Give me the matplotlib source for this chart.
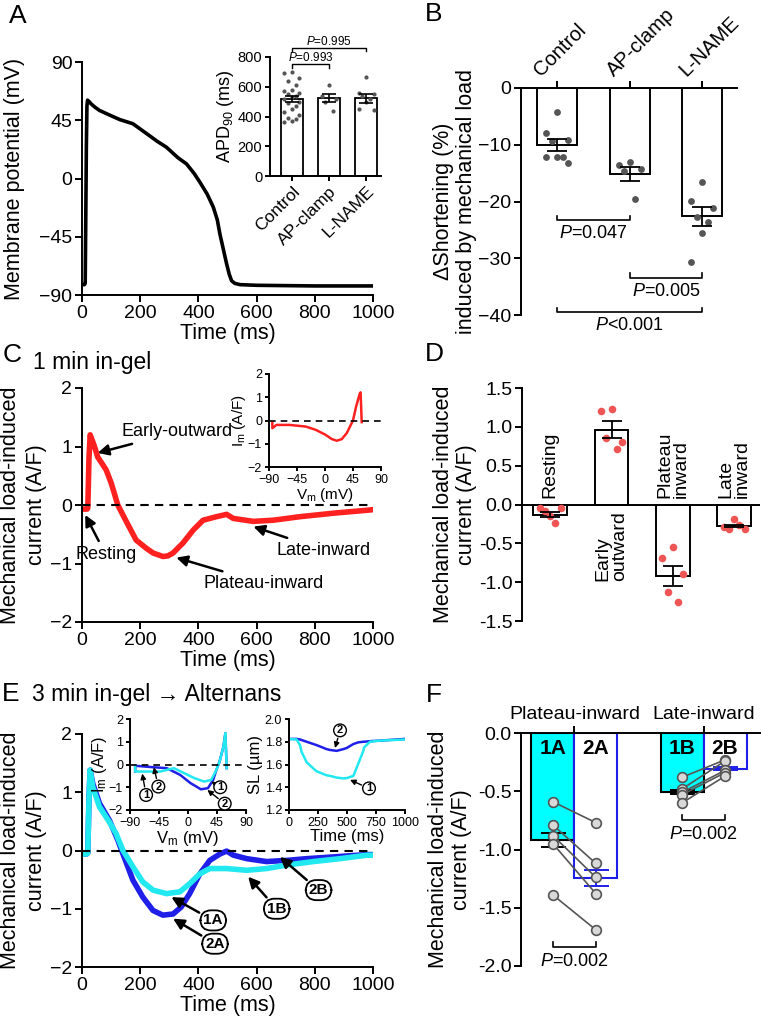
import numpy as np
import matplotlib
matplotlib.use('Agg')
import matplotlib.pyplot as plt
import matplotlib.transforms as mtransforms

plt.rcParams['font.family'] = ['Liberation Sans', 'DejaVu Sans']
plt.rcParams['mathtext.fontset'] = 'custom'
plt.rcParams['mathtext.rm'] = 'Liberation Sans'
plt.rcParams['mathtext.it'] = 'Liberation Sans:italic'
plt.rcParams['mathtext.bf'] = 'Liberation Sans:bold'
plt.rcParams['mathtext.default'] = 'regular'
plt.rcParams['axes.linewidth'] = 1.4

# ---- data ----
# A: action potential
ap_time = [0, 8, 11, 13, 15, 17, 19, 24, 32, 45, 60, 90, 130, 175, 220, 260, 290,
           330, 359, 385, 405, 430, 451, 465, 474, 486, 497, 506, 514, 525, 543, 600, 800, 1000]
ap_volt = [-82, -82, -81, -30, 25, 56, 60.5, 59.5, 57.5, 55, 52.6, 49.5, 45.5, 42.3, 35,
           28.5, 24.2, 16, 11.3, 4, -2.8, -12, -22, -32, -43, -55, -66, -74, -79, -81, -82, -82.5, -83, -83]

apd_groups = ['Control', 'AP-clamp', 'L-NAME']
apd_mean = [518, 523, 522]
apd_sem = [20, 28, 30]
apd_control = [700, 690, 660, 640, 610, 580, 570, 560, 550, 540, 530, 520, 500, 490,
               470, 450, 430, 410, 390, 380, 370, 365]
apd_apclamp = [610, 540, 520, 500, 440]
apd_lname = [665, 560, 550, 540, 520, 500, 450, 445]

# B: shortening
short_mean = [-10.0, -15.1, -22.6]
short_sem = [1.05, 1.2, 1.7]
short_control = [-4.3, -7.9, -9.2, -9.4, -12.1, -12.1, -12.2, -13.2]
short_apclamp = [-13.0, -13.5, -14.3, -14.6, -19.6]
short_lname = [-16.5, -19.9, -21.1, -22.8, -23.6, -25.6, -30.7]

# C: 1 min in-gel current
c_time = [0, 18, 20, 24, 28, 34, 43, 54, 70, 83, 100, 111, 123, 152, 186, 221, 244, 278,
          295, 313, 347, 382, 416, 462, 497, 520, 589, 657, 749, 864, 979, 1000]
c_curr = [-0.07, -0.07, -0.05, 0.8, 1.2, 1.12, 1.0, 0.82, 0.7, 0.6, 0.38, 0.2, 0.0, -0.28,
          -0.6, -0.74, -0.82, -0.88, -0.87, -0.82, -0.65, -0.43, -0.26, -0.2, -0.16, -0.23,
          -0.28, -0.26, -0.2, -0.14, -0.09, -0.08]
c_iv_volt = [-84.6, -84.6, -78, -57, -31, -15, 0.5, 11, 19, 27, 35, 45, 50, 56, 57.2, 59]
c_iv_curr = [-0.1, -0.33, -0.19, -0.19, -0.26, -0.4, -0.61, -0.8, -0.87, -0.8, -0.54, 0.0,
             0.6, 1.17, 1.21, -0.07]

# D: current components
d_labels = ['Resting', 'Early\noutward', 'Plateau\ninward', 'Late\ninward']
d_mean = [-0.13, 0.96, -0.92, -0.28]
d_sem = [0.03, 0.11, 0.13, 0.015]
d_points = [[-0.15, -0.05, -0.05, -0.09, -0.24],
            [1.23, 1.21, 0.81, 0.86, 0.72],
            [-0.55, -0.69, -0.90, -1.13, -1.26],
            [-0.19, -0.29, -0.32, -0.31, -0.27]]

# E: 3 min in-gel, alternans beats
e1_time = [0, 16, 20, 24, 28, 37, 60, 94, 117, 140, 175, 209, 244, 290, 336, 370, 405,
           439, 497, 566, 634, 703, 795, 887, 979, 1000]
e1_curr = [-0.06, -0.06, -0.04, 0.9, 1.38, 1.09, 0.75, 0.49, 0.29, 0.01, -0.28, -0.54,
           -0.68, -0.74, -0.71, -0.57, -0.4, -0.31, -0.31, -0.34, -0.31, -0.25, -0.19,
           -0.14, -0.08, -0.08]
e2_time = [0, 16, 20, 24, 28, 37, 60, 94, 123, 140, 175, 209, 244, 278, 313, 341, 370,
           405, 439, 474, 497, 520, 566, 634, 703, 772, 864, 979, 1000]
e2_curr = [-0.06, -0.06, -0.04, 0.9, 1.38, 1.15, 0.81, 0.52, 0.18, -0.05, -0.51, -0.8,
           -1.03, -1.11, -1.09, -0.97, -0.74, -0.4, -0.17, -0.06, -0.01, -0.08, -0.14,
           -0.19, -0.17, -0.14, -0.11, -0.07, -0.07]
e1_iv_volt = [-82, -82, -81.5, -43, -22, -6, 10, 25, 36, 44, 49, 55, 58, 60]
e1_iv_curr = [-0.05, -0.3, -0.31, -0.31, -0.16, -0.38, -0.6, -0.75, -0.68, -0.24, 0.13,
              0.79, 1.38, -0.16]
e2_iv_volt = [-82, -82, -80.5, -54, -33, -12, 4, 20, 31, 39, 44, 49, 55, 58, 60]
e2_iv_curr = [-0.3, -0.05, -0.06, -0.12, -0.16, -0.46, -0.82, -1.09, -1.04, -0.68, -0.24,
              0.13, 0.79, 1.38, -0.16]
sl_time = [0, 66, 95, 109, 152, 210, 239, 325, 353, 411, 468, 497, 555, 598, 641, 647,
           698, 784, 1000]
sl_beat1 = [1.825, 1.82, 1.77, 1.71, 1.62, 1.565, 1.54, 1.505, 1.50, 1.485, 1.478, 1.48,
            1.50, 1.61, 1.72, 1.75, 1.80, 1.81, 1.82]
sl_beat2 = [1.825, 1.825, 1.82, 1.815, 1.80, 1.78, 1.77, 1.735, 1.728, 1.72, 1.735, 1.745,
            1.78, 1.795, 1.80, 1.80, 1.805, 1.81, 1.825]

# F: paired plateau / late inward
f_pos = [0, 1, 3, 4]
f_names = ['1A', '2A', '1B', '2B']
f_mean = [-0.92, -1.245, -0.505, -0.305]
f_sem = [0.06, 0.065, 0.02, 0.015]
f_plateau_1 = [-0.59, -0.79, -0.88, -0.95, -1.39]
f_plateau_2 = [-0.77, -1.12, -1.24, -1.38, -1.69]
f_late_1 = [-0.38, -0.48, -0.51, -0.53, -0.60]
f_late_2 = [-0.23, -0.24, -0.32, -0.34, -0.37]

RED = '#ff2020'
BLUE = '#1f1fe8'
CYAN = '#22e8f0'
DOT = '#555555'

W, H = 762.0, 1019.0
fig = plt.figure(figsize=(7.62, 10.19), dpi=100)


def add_ax(l, t, r, b):
    return fig.add_axes([l / W, 1 - b / H, (r - l) / W, (b - t) / H])


def style(ax, size=14, length=5):
    ax.spines['top'].set_visible(False)
    ax.spines['right'].set_visible(False)
    ax.tick_params(direction='out', length=length, width=1.4, labelsize=size, pad=2)
    ax.patch.set_alpha(0)


def spread(n, w):
    # deterministic side-by-side placement of the dots
    pattern = [0, -1, 1, -0.5, 0.5]
    return [pattern[i % 5] * w for i in range(n)]


def bracket(ax, x1, x2, y, h, label, ty, fs, lw=1.2):
    ax.plot([x1, x1, x2, x2], [y + h, y, y, y + h], color='k', lw=lw, clip_on=False)
    ax.text((x1 + x2) / 2, ty, label, ha='center', va='center', fontsize=fs, clip_on=False)


def letter(x, y, s):
    fig.text(x / W, 1 - y / H, s, fontsize=19, ha='center', va='center')


CUR_LABEL = 'Mechanical load-induced\ncurrent (A/F)'

# ---------------- A ----------------
axA = add_ax(82, 62, 373, 295)
style(axA)
axA.plot(ap_time, ap_volt, color='k', lw=2.6)
axA.set_xlim(0, 1000)
axA.set_ylim(-90, 90)
axA.set_xticks(range(0, 1001, 200))
axA.set_yticks([-90, -45, 0, 45, 90])
axA.set_xlabel('Time (ms)', fontsize=15.5, labelpad=1)
axA.set_ylabel('Membrane potential (mV)', fontsize=15.5)
axA.yaxis.set_label_coords(-0.196, 0.5)

axAi = add_ax(270, 57, 381, 176)
style(axAi, size=10.5, length=3.5)
axAi.bar(range(3), apd_mean, width=0.58, facecolor='white', edgecolor='k', lw=1.3, zorder=1)
for i, vals in enumerate([apd_control, apd_apclamp, apd_lname]):
    off = spread(len(vals), 0.2)
    axAi.scatter(np.array(off) + i, vals, s=9, color=DOT, zorder=3, lw=0)
axAi.errorbar(range(3), apd_mean, yerr=apd_sem, fmt='none', ecolor='k', elinewidth=1.2,
              capsize=5, capthick=1.2, zorder=4)
axAi.set_xlim(-0.59, 2.4)
axAi.set_ylim(0, 800)
axAi.set_yticks(range(0, 801, 200))
axAi.set_xticks(range(3))
axAi.set_xticklabels(apd_groups, rotation=45, ha='right', rotation_mode='anchor', fontsize=12.5)
axAi.set_ylabel('APD$_{90}$ (ms)', fontsize=13, labelpad=1)
bracket(axAi, 0, 1, 750, -22, r'$\mathit{P}$=0.993', 795, 8.5, lw=1)
bracket(axAi, 0, 2, 862, -22, r'$\mathit{P}$=0.995', 905, 8.5, lw=1)

# ---------------- B ----------------
axB = add_ax(521, 88, 737, 315)
axB.spines['right'].set_visible(False)
axB.spines['bottom'].set_visible(False)
axB.tick_params(direction='out', length=5, width=1.4, labelsize=14, pad=2)
axB.patch.set_alpha(0)
axB.xaxis.tick_top()
axB.bar(range(3), short_mean, width=0.55, facecolor='white', edgecolor='k', lw=1.4)
for i, vals in enumerate([short_control, short_apclamp, short_lname]):
    off = spread(len(vals), 0.15)
    axB.scatter(np.array(off) + i, vals, s=24, color=DOT, zorder=3, lw=0)
axB.errorbar(range(3), short_mean, yerr=short_sem, fmt='none', ecolor='k', elinewidth=1.3,
             capsize=7, capthick=1.3, zorder=4)
axB.set_xlim(-0.5, 2.48)
axB.set_ylim(-40, 0)
axB.set_yticks([-40, -30, -20, -10, 0])
axB.set_xticks(range(3))
axB.set_xticklabels(apd_groups, rotation=45, ha='left', va='bottom', rotation_mode='anchor',
                    fontsize=14.5)
shift = mtransforms.ScaledTranslation(-13 / 100, -2 / 100, fig.dpi_scale_trans)
for lab in axB.get_xticklabels():
    lab.set_transform(lab.get_transform() + shift)
axB.set_ylabel('\u0394Shortening (%)\ninduced by mechanical load', fontsize=15.5,
               linespacing=1.1)
axB.yaxis.set_label_coords(-0.204, 0.5)
bracket(axB, 0, 1, -23.3, 0.8, r'$\mathit{P}$=0.047', -25.6, 13)
bracket(axB, 1, 2, -33.4, 0.8, r'$\mathit{P}$=0.005', -35.8, 13)
bracket(axB, 0, 2, -39.5, 0.8, r'$\mathit{P}$<0.001', -41.9, 13)

# ---------------- C ----------------
axC = add_ax(82, 388, 373, 622)
style(axC)
axC.plot(c_time, c_curr, color=RED, lw=4, solid_joinstyle='round')
axC.plot([0, 1000], [0, 0], color='k', lw=1.5, ls=(0, (4, 3)))
axC.set_xlim(0, 1000)
axC.set_ylim(-2, 2)
axC.set_xticks(range(0, 1001, 200))
axC.set_yticks([-2, -1, 0, 1, 2])
axC.set_xlabel('Time (ms)', fontsize=15.5, labelpad=1)
axC.set_ylabel(CUR_LABEL, fontsize=15.5, linespacing=1.3)
axC.yaxis.set_label_coords(-0.12, 0.5)
arr = dict(arrowstyle='-|>', color='k', lw=1.8, mutation_scale=16, shrinkA=2, shrinkB=0)
axC.annotate('Early-outward', xy=(54, 0.89), xytext=(137, 1.25), ha='left', va='center',
             fontsize=13, arrowprops=arr)
axC.annotate('Resting', xy=(11, -0.17), xytext=(82, -0.85), ha='center', va='center',
             fontsize=13, arrowprops=arr, annotation_clip=False)
axC.annotate('Plateau-inward', xy=(324, -0.9), xytext=(416, -1.34), ha='left', va='center',
             fontsize=13, arrowprops=arr)
axC.annotate('Late-inward', xy=(589, -0.37), xytext=(669, -0.77), ha='left', va='center',
             fontsize=13, arrowprops=arr)

axCi = add_ax(269, 374, 381, 467)
style(axCi, size=9, length=3)
axCi.plot(c_iv_volt, c_iv_curr, color=RED, lw=1.8)
axCi.plot([-90, 90], [0, 0], color='k', lw=1.2, ls=(0, (4, 3)))
axCi.set_xlim(-90, 90)
axCi.set_ylim(-2, 2)
axCi.set_xticks([-90, -45, 0, 45, 90])
axCi.set_yticks([-2, -1, 0, 1, 2])
axCi.set_xlabel('V$_m$ (mV)', fontsize=11, labelpad=0)
axCi.set_ylabel('I$_m$ (A/F)', fontsize=11, labelpad=0)

# ---------------- D ----------------
axD = add_ax(522, 388, 760, 621)
style(axD)
axD.spines['bottom'].set_visible(False)
axD.bar(range(4), d_mean, width=0.55, facecolor='white', edgecolor='k', lw=1.4)
for i, vals in enumerate(d_points):
    off = spread(len(vals), 0.17)
    axD.scatter(np.array(off) + i, vals, s=30, color='#f05555', zorder=3, lw=0)
axD.errorbar(range(4), d_mean, yerr=d_sem, fmt='none', ecolor='k', elinewidth=1.3,
             capsize=7, capthick=1.3, zorder=4)
axD.axhline(0, color='k', lw=1.4)
axD.set_xlim(-0.46, 3.42)
axD.set_ylim(-1.5, 1.5)
axD.set_xticks([])
axD.set_yticks([-1.5, -1.0, -0.5, 0.0, 0.5, 1.0, 1.5])
axD.set_yticklabels(['-1.5', '-1.0', '-0.5', '0.0', '0.5', '1.0', '1.5'])
axD.set_ylabel(CUR_LABEL, fontsize=15.5, linespacing=1.1)
axD.yaxis.set_label_coords(-0.189, 0.5)
for i, lab in enumerate(d_labels):
    if d_mean[i] > 0:
        axD.text(i, -0.08, lab, rotation=90, ha='center', va='top', fontsize=14,
                 multialignment='left', linespacing=1.0)
    else:
        axD.text(i, 0.09, lab, rotation=90, ha='center', va='bottom', fontsize=14,
                 multialignment='left', linespacing=1.0)

# ---------------- E ----------------
axE = add_ax(82, 734, 373, 967)
style(axE)
axE.plot(e2_time, e2_curr, color=BLUE, lw=4, solid_joinstyle='round')
axE.plot(e1_time, e1_curr, color=CYAN, lw=4, solid_joinstyle='round')
axE.plot([0, 1000], [0, 0], color='k', lw=1.5, ls=(0, (4, 3)))
axE.set_xlim(0, 1000)
axE.set_ylim(-2, 2)
axE.set_xticks(range(0, 1001, 200))
axE.set_yticks([-2, -1, 0, 1, 2])
axE.set_xlabel('Time (ms)', fontsize=15.5, labelpad=1)
axE.set_ylabel(CUR_LABEL, fontsize=15.5, linespacing=1.3)
axE.yaxis.set_label_coords(-0.12, 0.5)
oval = dict(boxstyle='round,pad=0.2,rounding_size=0.7', fc='white', ec='k', lw=1.3)
for lab, tip, pos in [('1A', (307, -0.8), (451, -1.2)), ('2A', (313, -1.17), (457, -1.6)),
                      ('1B', (571, -0.45), (669, -1.0)), ('2B', (680, -0.11), (813, -0.68))]:
    axE.annotate(lab, xy=tip, xytext=pos, ha='center', va='center', fontsize=11,
                 fontweight='bold', bbox=oval, arrowprops=arr)

axE1 = add_ax(130, 719, 246, 810)
style(axE1, size=9, length=3)
axE1.plot(e2_iv_volt, e2_iv_curr, color=BLUE, lw=1.8)
axE1.plot(e1_iv_volt, e1_iv_curr, color=CYAN, lw=1.8)
axE1.plot([-90, 90], [0, 0], color='k', lw=1.2, ls=(0, (4, 3)))
axE1.set_xlim(-90, 90)
axE1.set_ylim(-2, 2)
axE1.set_xticks([-90, -45, 0, 45, 90])
axE1.set_yticks([-2, -1, 0, 1, 2])
axE1.set_xlabel('V$_m$ (mV)', fontsize=12, labelpad=0)
axE1.set_ylabel('I$_m$ (A/F)', fontsize=12, labelpad=0)
circ = dict(boxstyle='circle,pad=0.12', fc='white', ec='k', lw=1)
sarr = dict(arrowstyle='-|>', color='k', lw=1, mutation_scale=8, shrinkA=1, shrinkB=0)
for lab, tip, pos in [('1', (-71, -0.4), (-65, -1.34)), ('2', (-53, -0.12), (-46, -0.97)),
                      ('1', (36, -0.75), (50, -1.0)), ('2', (30, -1.12), (57, -1.72))]:
    axE1.annotate(lab, xy=tip, xytext=pos, ha='center', va='center', fontsize=8,
                  fontweight='bold', bbox=circ, arrowprops=sarr)

axE2 = add_ax(289, 719, 405, 810)
style(axE2, size=9, length=3)
axE2.plot(sl_time, sl_beat2, color=BLUE, lw=1.8)
axE2.plot(sl_time, sl_beat1, color=CYAN, lw=1.8)
axE2.set_xlim(0, 1000)
axE2.set_ylim(1.2, 2.0)
axE2.set_xticks([0, 250, 500, 750, 1000])
axE2.set_yticks([1.2, 1.4, 1.6, 1.8, 2.0])
axE2.set_yticklabels(['1.2', '1.4', '1.6', '1.8', '2.0'])
axE2.set_xlabel('Time (ms)', fontsize=12, labelpad=0)
axE2.set_ylabel('SL (\u00b5m)', fontsize=12, labelpad=1)
axE2.annotate('2', xy=(397, 1.745), xytext=(440, 1.9), ha='center', va='center', fontsize=8,
              fontweight='bold', bbox=circ, arrowprops=sarr)
axE2.annotate('1', xy=(526, 1.465), xytext=(690, 1.39), ha='center', va='center', fontsize=8,
              fontweight='bold', bbox=circ, arrowprops=sarr)

# ---------------- F ----------------
axF = add_ax(521, 733, 760, 966)
axF.spines['right'].set_visible(False)
axF.spines['bottom'].set_visible(False)
axF.tick_params(direction='out', length=5, width=1.4, labelsize=14, pad=2)
axF.patch.set_alpha(0)
axF.xaxis.tick_top()
faces = ['#00ffff', 'white', '#00ffff', 'white']
edges = ['k', BLUE, 'k', BLUE]
axF.bar(f_pos, f_mean, width=1.0, facecolor=faces, edgecolor=edges, lw=1.5, zorder=1)
for i in range(4):
    axF.errorbar(f_pos[i], f_mean[i], yerr=f_sem[i], fmt='none', ecolor=edges[i],
                 elinewidth=1.4, capsize=9, capthick=1.4, zorder=2)
    axF.text(f_pos[i], -0.13, f_names[i], ha='center', va='center', fontsize=15,
             fontweight='bold')
for a, b in zip(f_plateau_1, f_plateau_2):
    axF.plot([0, 1], [a, b], color='#555555', lw=1.2, marker='o', ms=7, mfc='#d8d8d8',
             mec='#555555', mew=1.2, zorder=3)
for a, b in zip(f_late_1, f_late_2):
    axF.plot([3, 4], [a, b], color='#555555', lw=1.2, marker='o', ms=7, mfc='#d8d8d8',
             mec='#555555', mew=1.2, zorder=3)
axF.set_xlim(-0.74, 4.81)
axF.set_ylim(-2.0, 0.0)
axF.set_yticks([-2.0, -1.5, -1.0, -0.5, 0.0])
axF.set_yticklabels(['-2.0', '-1.5', '-1.0', '-0.5', '0.0'])
axF.set_xticks([0.5, 3.5])
axF.set_xticklabels(['Plateau-inward', 'Late-inward'], fontsize=14)
axF.set_ylabel(CUR_LABEL, fontsize=15.5, linespacing=1.1)
axF.yaxis.set_label_coords(-0.205, 0.5)
bracket(axF, 0, 1, -1.84, 0.05, r'$\mathit{P}$=0.002', -1.96, 13)
bracket(axF, 3, 4, -0.75, 0.05, r'$\mathit{P}$=0.002', -0.87, 13)

# ---------------- panel letters / titles ----------------
letter(18, 16, 'A')
letter(434, 14, 'B')
letter(12, 355, 'C')
letter(434, 354, 'D')
letter(11, 694, 'E')
letter(434, 695, 'F')
fig.text(33 / W, 1 - 363 / H, '1 min in-gel', fontsize=16.5, va='center')
fig.text(32 / W, 1 - 695 / H, '3 min in-gel \u2192 Alternans', fontsize=16.5, va='center')

fig.savefig('out.png', dpi=100)
